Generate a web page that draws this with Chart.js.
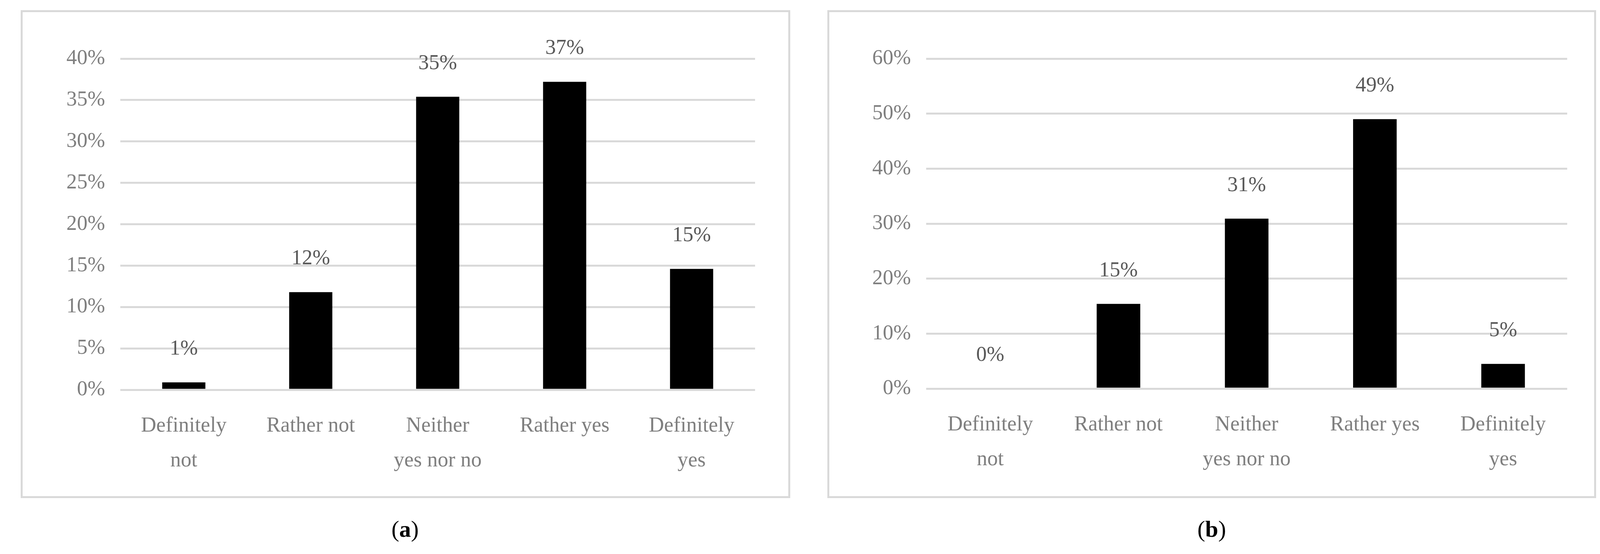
<!DOCTYPE html>
<html lang="en">
<head>
<meta charset="UTF-8">
<title>Survey answers (a) and (b)</title>
<script src="https://cdn.jsdelivr.net/npm/chart.js@4.4.2/dist/chart.umd.min.js"></script>
<style>
  body { margin: 0; background: #fff; width: 4136px; height: 1417px; position: relative; overflow: hidden;
         font-family: 'Liberation Serif', serif; }
  .box { position: absolute; border: 5px solid #d9d9d9; box-sizing: border-box; }
  .box canvas { position: absolute; left: 0; top: 0; }
  .cap { position: absolute; font-size: 60px; color: #000; transform: translate(-50%, -50%); }
</style>
</head>
<body>
<div class="box" style="left:53px; top:26px; width:1970px; height:1248px;"><canvas id="chartA"></canvas></div>
<div class="box" style="left:2118px; top:26px; width:1968px; height:1248px;"><canvas id="chartB"></canvas></div>
<div class="cap" style="left:1037px; top:1353px;">(<b>a</b>)</div>
<div class="cap" style="left:3102px; top:1353px;">(<b>b</b>)</div>

<script>
// --- data ---
const categories = [['Definitely', 'not'], 'Rather not', ['Neither', 'yes nor no'], 'Rather yes', ['Definitely', 'yes']];
const valuesA = [0.9, 11.8, 35.4, 37.2, 14.6];
const labelsA = ['1%', '12%', '35%', '37%', '15%'];
const valuesB = [0, 15.4, 30.9, 49.0, 4.5];
const labelsB = ['0%', '15%', '31%', '49%', '5%'];

const FONT = 'Liberation Serif';

const barLabels = {
    id: 'barLabels',
    afterDatasetsDraw(chart, args, opts) {
        const ctx = chart.ctx;
        const meta = chart.getDatasetMeta(0);
        ctx.save();
        ctx.font = '54px "' + FONT + '"';
        ctx.fillStyle = '#595959';
        ctx.textAlign = 'center';
        ctx.textBaseline = 'middle';
        meta.data.forEach((bar, i) => {
            ctx.fillText(opts.texts[i], bar.x, bar.y - 85);
        });
        ctx.restore();
    }
};

function makeChart(id, w, h, values, texts, maxY, stepY, pad, axisW, axisH) {
    const canvas = document.getElementById(id);
    canvas.width = w; canvas.height = h;
    canvas.style.width = w + 'px'; canvas.style.height = h + 'px';
    return new Chart(canvas, {
        type: 'bar',
        data: {
            labels: categories,
            datasets: [{ data: values, backgroundColor: '#000', barPercentage: 0.85, categoryPercentage: 0.4 }]
        },
        options: {
            responsive: false,
            animation: false,
            devicePixelRatio: 1,
            layout: { padding: { top: pad.top, right: pad.right, left: 0, bottom: 0 } },
            plugins: { legend: { display: false }, tooltip: { enabled: false }, barLabels: { texts: texts } },
            scales: {
                x: {
                    grid: { display: false },
                    border: { display: false },
                    ticks: { color: '#7f7f7f', font: { family: FONT, size: 54, lineHeight: 1.65 }, padding: 40, maxRotation: 0 },
                    afterFit: s => { s.height = axisH; }
                },
                y: {
                    min: 0, max: maxY,
                    grid: { color: '#d9d9d9', lineWidth: 5, drawTicks: false },
                    border: { display: false },
                    ticks: { stepSize: stepY, color: '#7f7f7f', padding: 39,
                             font: { family: FONT, size: 54 }, callback: v => v + '%' },
                    afterFit: s => { s.width = axisW; }
                }
            }
        },
        plugins: [barLabels]
    });
}

makeChart('chartA', 1970, 1248, valuesA, labelsA, 40, 5, { top: 119, right: 95 }, 250, 282);
makeChart('chartB', 1968, 1248, valuesB, labelsB, 60, 10, { top: 119, right: 79 }, 248, 285);
</script>
</body>
</html>
